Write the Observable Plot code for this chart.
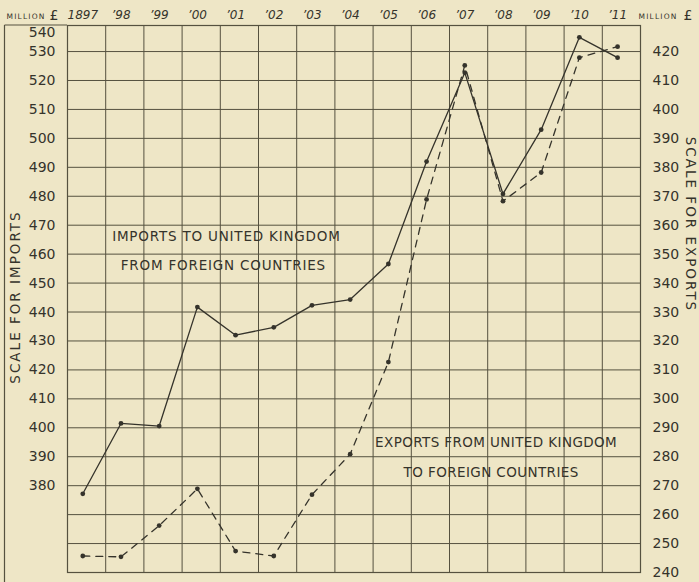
<!DOCTYPE html>
<html><head><meta charset="utf-8">
<script src="https://cdn.jsdelivr.net/npm/d3@7"></script>
<script src="https://cdn.jsdelivr.net/npm/@observablehq/plot@0.6"></script>
<style>
html,body{margin:0;padding:0;background:#eee6c6;}
#chart svg{display:block;}
</style></head><body><div id="chart"></div>
<script>
// ---- data (million £) ----
const years = [1897, 1898, 1899, 1900, 1901, 1902, 1903, 1904, 1905, 1906, 1907, 1908, 1909, 1910, 1911];
const yearLabels = ["1897", "’98", "’99", "’00", "’01", "’02", "’03", "’04", "’05", "’06", "’07", "’08", "’09", "’10", "’11"];
const imports = [377.2, 401.5, 400.6, 441.7, 432.0, 434.7, 442.3, 444.3, 456.6, 492.0, 522.7, 480.8, 503.0, 534.9, 527.9];
const exports = [245.7, 245.4, 256.2, 268.9, 247.4, 245.7, 266.9, 280.9, 312.7, 368.9, 415.2, 368.3, 378.2, 417.9, 421.7];
const importTicks = [380, 390, 400, 410, 420, 430, 440, 450, 460, 470, 480, 490, 500, 510, 520, 530, 540];
const exportTicks = [240, 250, 260, 270, 280, 290, 300, 310, 320, 330, 340, 350, 360, 370, 380, 390, 400, 410, 420];
const gridValues = [360, 370, 380, 390, 400, 410, 420, 430, 440, 450, 460, 470, 480, 490, 500, 510, 520, 530];
const exportOffset = 110; // exports scale = imports scale - 110

const ink = "#35332b";
const gridInk = "#55513f";
const bg = "#eee6c6";
const font = "DejaVu Sans, Verdana, sans-serif";

const importData = years.map((year, i) => ({year, value: imports[i]}));
const exportData = years.map((year, i) => ({year, value: exports[i] + exportOffset}));
const columnEdges = years.slice(1).map(y => y - 0.4);

const annot = {fontSize: 13.5, fill: ink, textAnchor: "middle", lineAnchor: "middle"};

const plot = Plot.plot({
  width: 699, height: 582,
  marginLeft: 67, marginRight: 59, marginTop: 25, marginBottom: 10,
  x: {domain: [1896.6, 1911.6], axis: null},
  y: {domain: [350, 539], axis: null},
  style: {background: bg, fontFamily: font, color: ink, overflow: "visible"},
  marks: [
    Plot.ruleY(gridValues, {y: d => d, stroke: gridInk, strokeWidth: 1}),
    Plot.ruleX(columnEdges, {x: d => d, stroke: gridInk, strokeWidth: 1}),
    Plot.frame({stroke: gridInk, strokeWidth: 1.2}),
    // left (imports) scale
    Plot.text(importTicks.filter(d => d < 540), {y: d => d, text: d => String(d), frameAnchor: "left", dx: -12, textAnchor: "end", lineAnchor: "middle", fontSize: 14, fill: ink}),
    Plot.text(importTicks.filter(d => d >= 540), {y: d => d, text: d => String(d), frameAnchor: "left", dx: -12, dy: 10, textAnchor: "end", lineAnchor: "middle", fontSize: 14, fill: ink}),
    // right (exports) scale
    Plot.text(exportTicks, {y: d => d + exportOffset, text: d => String(d), frameAnchor: "right", dx: 12, textAnchor: "start", lineAnchor: "middle", fontSize: 14, fill: ink}),
    // year labels on top
    Plot.text(years, {x: d => d, text: (d, i) => yearLabels[i], frameAnchor: "top", dy: -10, textAnchor: "middle", lineAnchor: "middle", fontSize: 12, fontStyle: "italic", fill: ink}),
    // unit labels
    Plot.text(["MILLION"], {text: d => d, frameAnchor: "top-left", dx: -61, dy: -9, textAnchor: "start", lineAnchor: "middle", fontSize: 7.5, fill: ink}),
    Plot.text(["£"], {text: d => d, frameAnchor: "top-left", dx: -18, dy: -10, textAnchor: "start", lineAnchor: "middle", fontSize: 14, fill: ink}),
    Plot.text(["MILLION"], {text: d => d, frameAnchor: "top-right", dx: -2, dy: -9, textAnchor: "start", lineAnchor: "middle", fontSize: 7.5, fill: ink}),
    Plot.text(["£"], {text: d => d, frameAnchor: "top-right", dx: 43, dy: -10, textAnchor: "start", lineAnchor: "middle", fontSize: 14, fill: ink}),
    // scale titles
    Plot.text(["SCALE FOR IMPORTS"], {text: d => d, frameAnchor: "left", dx: -52, dy: -2, rotate: -90, textAnchor: "middle", lineAnchor: "middle", fontSize: 13.5, fill: ink}),
    Plot.text(["SCALE FOR EXPORTS"], {text: d => d, frameAnchor: "top-right", dx: 50, dy: 199, rotate: 90, textAnchor: "middle", lineAnchor: "middle", fontSize: 13.5, fill: ink}),
    // series
    Plot.line(importData, {x: "year", y: "value", stroke: ink, strokeWidth: 1.3}),
    Plot.line(exportData, {x: "year", y: "value", stroke: ink, strokeWidth: 1.3, strokeDasharray: "7,6"}),
    Plot.dot(importData, {x: "year", y: "value", r: 2.4, fill: ink, stroke: "none"}),
    Plot.dot(exportData, {x: "year", y: "value", r: 2.4, fill: ink, stroke: "none"}),
    // annotations
    Plot.text(["IMPORTS TO UNITED KINGDOM"], {text: d => d, x: 1900.76, y: 466, ...annot}),
    Plot.text(["FROM FOREIGN COUNTRIES"], {text: d => d, x: 1900.68, y: 456, ...annot}),
    Plot.text(["EXPORTS FROM UNITED KINGDOM"], {text: d => d, x: 1907.82, y: 284.7 + exportOffset, ...annot}),
    Plot.text(["TO FOREIGN COUNTRIES"], {text: d => d, x: 1907.69, y: 274.4 + exportOffset, ...annot})
  ]
});

document.getElementById("chart").appendChild(plot);

// letter spacing for the lettered labels
const spaced = new Set(["IMPORTS TO UNITED KINGDOM", "FROM FOREIGN COUNTRIES", "EXPORTS FROM UNITED KINGDOM", "TO FOREIGN COUNTRIES"]);
d3.select(plot).selectAll("text").each(function () {
  const t = this.textContent;
  if (t === "IMPORTS TO UNITED KINGDOM" || t === "FROM FOREIGN COUNTRIES") this.setAttribute("letter-spacing", "0.8");
  else if (spaced.has(t)) this.setAttribute("letter-spacing", "0.4");
  if (t.startsWith("SCALE FOR")) this.setAttribute("letter-spacing", "2");
  if (t === "MILLION") this.setAttribute("letter-spacing", "1.2");
});

// outer box on the left of the grid
const svg = d3.select(plot);
svg.append("line").attr("x1", 4.5).attr("x2", 4.5).attr("y1", 25).attr("y2", 582).attr("stroke", gridInk).attr("stroke-width", 1.2);
svg.append("line").attr("x1", 4.5).attr("x2", 67).attr("y1", 25).attr("y2", 25).attr("stroke", gridInk).attr("stroke-width", 1.2);
</script></body></html>
